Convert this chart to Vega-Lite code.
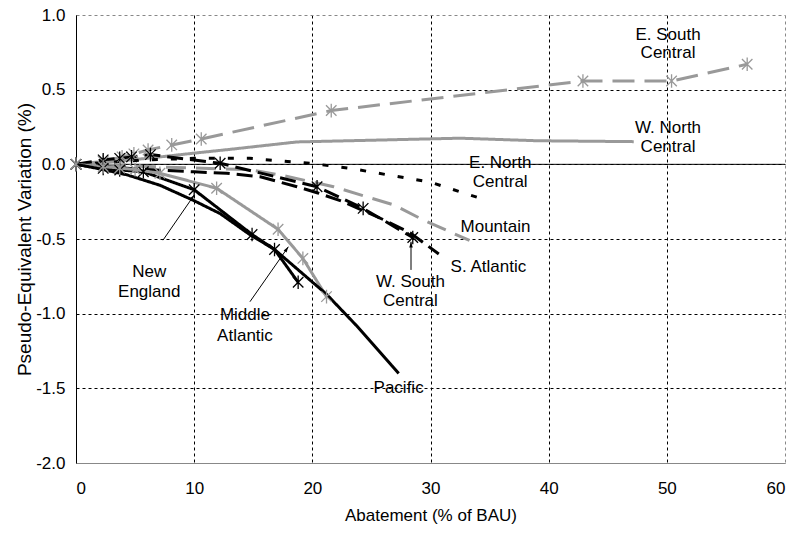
{
  "$schema": "https://vega.github.io/schema/vega-lite/v6.json",
  "width": 709,
  "height": 448,
  "autosize": "none",
  "padding": {"left": 76, "top": 15, "right": 10, "bottom": 70},
  "background": "white",
  "config": {
    "view": {"stroke": null},
    "font": "Liberation Sans, Arial, sans-serif",
    "locale": {"number": {"decimal": ".", "thousands": ",", "grouping": [3], "currency": ["$", ""], "minus": "-"}},
    "axis": {"labelColor": "black", "titleColor": "black", "titleFontWeight": "normal", "ticks": false}
  },
  "datasets": {
    "lines": [
      {"series": "E. South Central", "x": 0, "y": 0},
      {"series": "E. South Central", "x": 2.3, "y": 0.02},
      {"series": "E. South Central", "x": 3.9, "y": 0.05},
      {"series": "E. South Central", "x": 4.9, "y": 0.07},
      {"series": "E. South Central", "x": 6.1, "y": 0.096},
      {"series": "E. South Central", "x": 8.1, "y": 0.13},
      {"series": "E. South Central", "x": 10.6, "y": 0.17},
      {"series": "E. South Central", "x": 21.6, "y": 0.36},
      {"series": "E. South Central", "x": 42.9, "y": 0.558},
      {"series": "E. South Central", "x": 50.4, "y": 0.558},
      {"series": "E. South Central", "x": 56.8, "y": 0.67},
      {"series": "W. North Central", "x": 0, "y": 0},
      {"series": "W. North Central", "x": 2.3, "y": 0.012},
      {"series": "W. North Central", "x": 4, "y": 0.025},
      {"series": "W. North Central", "x": 6, "y": 0.04},
      {"series": "W. North Central", "x": 10, "y": 0.075},
      {"series": "W. North Central", "x": 13, "y": 0.1},
      {"series": "W. North Central", "x": 18.7, "y": 0.15},
      {"series": "W. North Central", "x": 32.5, "y": 0.175},
      {"series": "W. North Central", "x": 39, "y": 0.158},
      {"series": "W. North Central", "x": 47.2, "y": 0.152},
      {"series": "E. North Central", "x": 0, "y": 0},
      {"series": "E. North Central", "x": 2.3, "y": 0.01},
      {"series": "E. North Central", "x": 4, "y": 0.02},
      {"series": "E. North Central", "x": 6, "y": 0.03},
      {"series": "E. North Central", "x": 10, "y": 0.04},
      {"series": "E. North Central", "x": 14.7, "y": 0.04},
      {"series": "E. North Central", "x": 19.8, "y": 0.007},
      {"series": "E. North Central", "x": 23.2, "y": -0.027},
      {"series": "E. North Central", "x": 30, "y": -0.12},
      {"series": "E. North Central", "x": 34.9, "y": -0.245},
      {"series": "Mountain", "x": 0, "y": 0},
      {"series": "Mountain", "x": 2.3, "y": -0.005},
      {"series": "Mountain", "x": 4, "y": -0.01},
      {"series": "Mountain", "x": 6, "y": -0.015},
      {"series": "Mountain", "x": 10, "y": -0.025},
      {"series": "Mountain", "x": 14.7, "y": -0.035},
      {"series": "Mountain", "x": 17.8, "y": -0.08},
      {"series": "Mountain", "x": 21.8, "y": -0.15},
      {"series": "Mountain", "x": 26.9, "y": -0.272},
      {"series": "Mountain", "x": 29.4, "y": -0.373},
      {"series": "Mountain", "x": 33.3, "y": -0.51},
      {"series": "S. Atlantic", "x": 0, "y": 0},
      {"series": "S. Atlantic", "x": 2.3, "y": -0.015},
      {"series": "S. Atlantic", "x": 4, "y": -0.025},
      {"series": "S. Atlantic", "x": 6, "y": -0.035},
      {"series": "S. Atlantic", "x": 10, "y": -0.05},
      {"series": "S. Atlantic", "x": 12.75, "y": -0.06},
      {"series": "S. Atlantic", "x": 15.6, "y": -0.083},
      {"series": "S. Atlantic", "x": 18.7, "y": -0.15},
      {"series": "S. Atlantic", "x": 20.4, "y": -0.19},
      {"series": "S. Atlantic", "x": 22.6, "y": -0.25},
      {"series": "S. Atlantic", "x": 26, "y": -0.37},
      {"series": "S. Atlantic", "x": 28.3, "y": -0.46},
      {"series": "S. Atlantic", "x": 30.7, "y": -0.6},
      {"series": "W. South Central", "x": 0, "y": 0},
      {"series": "W. South Central", "x": 2.3, "y": 0.03},
      {"series": "W. South Central", "x": 3.7, "y": 0.04},
      {"series": "W. South Central", "x": 4.7, "y": 0.05},
      {"series": "W. South Central", "x": 6.3, "y": 0.065},
      {"series": "W. South Central", "x": 12.2, "y": 0.007},
      {"series": "W. South Central", "x": 20.4, "y": -0.15},
      {"series": "W. South Central", "x": 24.3, "y": -0.295},
      {"series": "W. South Central", "x": 28.5, "y": -0.49},
      {"series": "New England", "x": 0, "y": 0},
      {"series": "New England", "x": 2.3, "y": -0.027},
      {"series": "New England", "x": 3.7, "y": -0.038},
      {"series": "New England", "x": 5.7, "y": -0.05},
      {"series": "New England", "x": 10, "y": -0.17},
      {"series": "New England", "x": 14.9, "y": -0.47},
      {"series": "New England", "x": 16.8, "y": -0.57},
      {"series": "New England", "x": 18.8, "y": -0.79},
      {"series": "Middle Atlantic", "x": 0, "y": 0},
      {"series": "Middle Atlantic", "x": 2.3, "y": -0.015},
      {"series": "Middle Atlantic", "x": 3.7, "y": -0.025},
      {"series": "Middle Atlantic", "x": 5, "y": -0.035},
      {"series": "Middle Atlantic", "x": 7.1, "y": -0.06},
      {"series": "Middle Atlantic", "x": 11.9, "y": -0.16},
      {"series": "Middle Atlantic", "x": 17.1, "y": -0.435},
      {"series": "Middle Atlantic", "x": 19.2, "y": -0.63},
      {"series": "Middle Atlantic", "x": 21.2, "y": -0.886},
      {"series": "Pacific", "x": 0, "y": 0},
      {"series": "Pacific", "x": 2, "y": -0.03},
      {"series": "Pacific", "x": 4.3, "y": -0.07},
      {"series": "Pacific", "x": 7.1, "y": -0.14},
      {"series": "Pacific", "x": 9.9, "y": -0.24},
      {"series": "Pacific", "x": 12.2, "y": -0.33},
      {"series": "Pacific", "x": 14.7, "y": -0.47},
      {"series": "Pacific", "x": 16.8, "y": -0.57},
      {"series": "Pacific", "x": 19, "y": -0.72},
      {"series": "Pacific", "x": 21.2, "y": -0.87},
      {"series": "Pacific", "x": 23.7, "y": -1.077},
      {"series": "Pacific", "x": 27.3, "y": -1.4}
    ],
    "labels": [
      {"text": "E. South", "x": 50.1, "y": 0.866},
      {"text": "Central", "x": 50.1, "y": 0.745},
      {"text": "W. North", "x": 50.1, "y": 0.241},
      {"text": "Central", "x": 50.1, "y": 0.118},
      {"text": "E. North", "x": 35.9, "y": 0.007},
      {"text": "Central", "x": 35.9, "y": -0.116},
      {"text": "Mountain", "x": 35.5, "y": -0.42},
      {"text": "S. Atlantic", "x": 34.9, "y": -0.685},
      {"text": "W. South", "x": 28.3, "y": -0.786},
      {"text": "Central", "x": 28.3, "y": -0.913},
      {"text": "Pacific", "x": 27.3, "y": -1.5},
      {"text": "Middle", "x": 14.3, "y": -1.009},
      {"text": "Atlantic", "x": 14.3, "y": -1.15},
      {"text": "New", "x": 6.2, "y": -0.72},
      {"text": "England", "x": 6.2, "y": -0.853}
    ],
    "arrows": [
      {"name": "New England", "x0": 7.36, "y0": -0.508, "x": 10.01, "y": -0.205},
      {"name": "Middle Atlantic", "x0": 14.72, "y0": -0.92, "x": 17.97, "y": -0.552},
      {"name": "W. South Central", "x0": 28.35, "y0": -0.707, "x": 28.35, "y": -0.518}
    ]
  },
  "layer": [
    {
      "data": {"values": [{}]},
      "mark": {"type": "rule", "color": "black", "strokeWidth": 1},
      "encoding": {
        "y": {"datum": 0, "type": "quantitative", "title": "Pseudo-Equivalent Variation (%)"}
      }
    },
    {
      "data": {"name": "lines"},
      "mark": {"type": "line", "strokeWidth": 3, "strokeCap": "butt"},
      "encoding": {
        "x": {
          "field": "x", "type": "quantitative",
          "scale": {"domain": [0, 60], "nice": false, "zero": false},
          "axis": {
            "values": [0, 10, 20, 30, 40, 50, 60],
            "title": "Abatement (% of BAU)",
            "grid": true, "gridDash": [3, 3], "gridWidth": 1,
            "gridColor": {"condition": {"test": "datum.value == 60", "value": "#888888"}, "value": "black"},
            "domainColor": "#888888", "domainWidth": 1,
            "labelFontSize": 17, "labelPadding": 17,
            "titleFontSize": 17, "titlePadding": 11
          }
        },
        "y": {
          "field": "y", "type": "quantitative",
          "scale": {"domain": [-2, 1], "nice": false, "zero": false},
          "axis": {
            "values": [-2, -1.5, -1, -0.5, 0, 0.5, 1],
            "format": ".1f",
            "title": "Pseudo-Equivalent Variation (%)",
            "grid": true, "gridDash": [3, 3], "gridWidth": 1,
            "gridColor": {"condition": {"test": "datum.value == 1 || datum.value == -2", "value": "#888888"}, "value": "black"},
            "domainColor": "black", "domainWidth": 1,
            "labelFontSize": 17, "labelPadding": 11,
            "titleFontSize": 19, "titlePadding": 1
          }
        },
        "color": {
          "field": "series", "type": "nominal", "legend": null,
          "scale": {
            "domain": ["E. South Central", "W. North Central", "E. North Central", "Mountain", "S. Atlantic", "W. South Central", "New England", "Middle Atlantic", "Pacific"],
            "range": ["#999999", "#999999", "#000000", "#999999", "#000000", "#000000", "#000000", "#999999", "#000000"]
          }
        },
        "strokeDash": {
          "field": "series", "type": "nominal", "legend": null,
          "scale": {
            "domain": ["E. South Central", "W. North Central", "E. North Central", "Mountain", "S. Atlantic", "W. South Central", "New England", "Middle Atlantic", "Pacific"],
            "range": [[22, 10], [1, 0], [6, 13], [20, 10], [16, 7], [16, 7], [1, 0], [1, 0], [1, 0]]
          }
        }
      }
    },
    {
      "data": {"name": "lines"},
      "transform": [{"filter": {"field": "series", "oneOf": ["E. South Central", "W. South Central", "New England", "Middle Atlantic"]}}],
      "mark": {"type": "point", "shape": "M-1,-1L1,1M-1,1L1,-1M0,-1.3L0,1.3", "filled": false, "size": 110, "strokeWidth": 1.3, "opacity": 1},
      "encoding": {
        "x": {"field": "x", "type": "quantitative", "title": "Abatement (% of BAU)"},
        "y": {"field": "y", "type": "quantitative", "title": "Pseudo-Equivalent Variation (%)"},
        "color": {"field": "series", "type": "nominal", "legend": null}
      }
    },
    {
      "data": {"name": "arrows"},
      "mark": {"type": "rule", "color": "black", "strokeWidth": 1},
      "encoding": {
        "x": {"field": "x0", "type": "quantitative", "title": "Abatement (% of BAU)"},
        "y": {"field": "y0", "type": "quantitative", "title": "Pseudo-Equivalent Variation (%)"},
        "x2": {"field": "x"},
        "y2": {"field": "y"}
      }
    },
    {
      "data": {"name": "arrows"},
      "transform": [{"filter": {"field": "name", "oneOf": ["New England", "Middle Atlantic"]}}],
      "mark": {"type": "point", "shape": "M0,0L-0.6,1.9L0.6,1.9Z", "filled": true, "color": "black", "size": 36, "angle": 35, "opacity": 1},
      "encoding": {
        "x": {"field": "x", "type": "quantitative", "title": "Abatement (% of BAU)"},
        "y": {"field": "y", "type": "quantitative", "title": "Pseudo-Equivalent Variation (%)"}
      }
    },
    {
      "data": {"name": "arrows"},
      "transform": [{"filter": {"field": "name", "equal": "W. South Central"}}],
      "mark": {"type": "point", "shape": "M0,0L-0.6,1.9L0.6,1.9Z", "filled": true, "color": "black", "size": 36, "angle": 0, "opacity": 1},
      "encoding": {
        "x": {"field": "x", "type": "quantitative", "title": "Abatement (% of BAU)"},
        "y": {"field": "y", "type": "quantitative", "title": "Pseudo-Equivalent Variation (%)"}
      }
    },
    {
      "data": {"name": "labels"},
      "mark": {"type": "text", "fontSize": 17, "color": "black", "align": "center", "baseline": "middle"},
      "encoding": {
        "x": {"field": "x", "type": "quantitative", "title": "Abatement (% of BAU)"},
        "y": {"field": "y", "type": "quantitative", "title": "Pseudo-Equivalent Variation (%)"},
        "text": {"field": "text"}
      }
    }
  ]
}
